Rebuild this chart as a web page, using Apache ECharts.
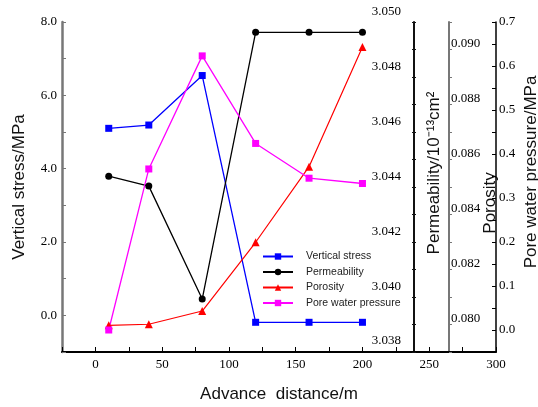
<!DOCTYPE html>
<html>
<head>
<meta charset="utf-8">
<script src="https://cdn.jsdelivr.net/npm/echarts@6/dist/echarts.min.js"></script>
<style>html,body{margin:0;padding:0;background:#fff}#c{width:538px;height:407px}</style>
</head>
<body>
<div id="c"></div>
<script>
// ---- data ----
var distances = [10, 40, 80, 120, 160, 200];
var verticalStress = [5.10, 5.19, 6.54, -0.19, -0.19, -0.19];
var permeability = [3.04401, 3.04365, 3.03953, 3.04926, 3.04926, 3.04926];
var porosity = [0.07977, 0.07981, 0.08029, 0.08279, 0.08554, 0.08989];
var poreWaterPressure = [0.0, 0.366, 0.623, 0.424, 0.345, 0.333];
var seriesNames = ['Vertical stress', 'Permeability', 'Porosity', 'Pore water pressure'];
var xTickLabels = [0, 50, 100, 150, 200, 250, 300];
var stressTickLabels = [0, 2, 4, 6, 8];
var permTickLabels = [3.038, 3.040, 3.042, 3.044, 3.046, 3.048, 3.050];
var porosityTickLabels = [0.080, 0.082, 0.084, 0.086, 0.088, 0.090];
var poreTickLabels = [0, 0.1, 0.2, 0.3, 0.4, 0.5, 0.6, 0.7];

function pairs(ys) { return distances.map(function (x, i) { return [x, ys[i]]; }); }
function pick(list, digits) {
  return function (v) {
    for (var i = 0; i < list.length; i++) {
      if (Math.abs(list[i] - v) < 1e-7) return list[i].toFixed(digits);
    }
    return '';
  };
}
var serif = 'Liberation Serif';
var sans = 'Liberation Sans, Arial, sans-serif';
var labelStyle = { fontFamily: serif, fontSize: 13, color: '#000' };
var nameFont = { fontFamily: sans, fontSize: 17, color: '#111' };
function tickAxis(offset, inside, len, color) {
  return {
    gridIndex: 0, type: 'value', position: 'right', offset: offset, min: 0, max: 12, interval: 1,
    axisLine: { show: false, onZero: false },
    axisTick: { show: true, inside: inside, length: len, lineStyle: { color: color, width: 1 } },
    axisLabel: { show: false }, splitLine: { show: false }
  };
}

var chart = echarts.init(document.getElementById('c'));
chart.setOption({
  backgroundColor: '#fff',
  animation: false,
  grid: [
    { left: 62, right: 42, top: 22, bottom: 55, outerBoundsMode: 'none', containLabel: false },
    { left: 62, right: 42, top: 12, bottom: 55, outerBoundsMode: 'none', containLabel: false }
  ],
  legend: {
    orient: 'vertical', left: 257, top: 246,
    itemWidth: 30, itemHeight: 8, itemGap: 4.5,
    data: seriesNames,
    textStyle: { fontFamily: sans, fontSize: 10.5, color: '#222', padding: [0, 0, 0, 8] }
  },
  xAxis: [
    {
      gridIndex: 0, type: 'value', min: -25, max: 300, interval: 25,
      name: 'Advance  distance/m', nameLocation: 'middle', nameGap: 34,
      nameTextStyle: nameFont,
      axisLine: { onZero: false, lineStyle: { color: '#000', width: 2 } },
      axisTick: { inside: true, length: 5, lineStyle: { color: '#000' } },
      axisLabel: Object.assign({ margin: 6, formatter: pick(xTickLabels, 0) }, labelStyle),
      splitLine: { show: false }
    },
    {
      gridIndex: 1, type: 'value', min: -25, max: 300, show: false
    }
  ],
  yAxis: [
    {
      gridIndex: 0, type: 'value', position: 'left', min: -1, max: 8, interval: 1,
      name: 'Vertical stress/MPa', nameLocation: 'middle', nameGap: 34, nameRotate: 90,
      nameMoveOverlap: false,
      nameTextStyle: nameFont,
      axisLine: { show: true, onZero: false, lineStyle: { color: '#777', width: 2.5 } },
      axisTick: { show: true, inside: true, length: 4, lineStyle: { color: '#777' } },
      axisLabel: Object.assign({ margin: 5, formatter: pick(stressTickLabels, 1) }, labelStyle),
      splitLine: { show: false }
    },
    {
      gridIndex: 0, type: 'value', position: 'right', min: -0.05, max: 0.7, interval: 0.05,
      name: 'Pore water pressure/MPa', nameLocation: 'middle', nameGap: 27, nameRotate: 90,
      nameMoveOverlap: false,
      nameTextStyle: Object.assign({ padding: [0, 0, 0, 30] }, nameFont),
      axisLine: { show: true, onZero: false, lineStyle: { color: '#000', width: 1.5 } },
      axisTick: { show: true, inside: true, length: 4, lineStyle: { color: '#000' } },
      axisLabel: Object.assign({ margin: 3, formatter: pick(poreTickLabels, 1) }, labelStyle),
      splitLine: { show: false }
    },
    {
      gridIndex: 0, type: 'value', position: 'right', offset: -47,
      min: 0.0788, max: 0.0908, interval: 0.0004,
      name: 'Porosity', nameLocation: 'middle', nameGap: 33, nameRotate: 90,
      nameMoveOverlap: false,
      nameTextStyle: Object.assign({ padding: [0, 32, 0, 0] }, nameFont),
      axisLine: { show: true, onZero: false, lineStyle: { color: '#777', width: 2 } },
      axisTick: { show: false },
      axisLabel: Object.assign({ margin: 2, formatter: pick(porosityTickLabels, 3) }, labelStyle),
      splitLine: { show: false }
    },
    {
      gridIndex: 1, type: 'value', position: 'right', offset: -82,
      min: 3.0376, max: 3.050, interval: 0.0004,
      name: 'Permeability/10\u207B\u00B9\u00B3cm\u00B2', nameLocation: 'middle', nameGap: 12, nameRotate: 90,
      nameMoveOverlap: false,
      nameTextStyle: Object.assign({ padding: [0, 0, 0, 18] }, nameFont),
      axisLine: { show: false, onZero: false },
      axisTick: { show: false },
      axisLabel: Object.assign({ inside: true, margin: 13, formatter: pick(permTickLabels, 3) }, labelStyle),
      splitLine: { show: false }
    },
    {
      gridIndex: 0, type: 'value', position: 'right', offset: -82, min: 0, max: 1,
      axisLine: { show: true, onZero: false, lineStyle: { color: '#111', width: 2 } },
      axisTick: { show: false }, axisLabel: { show: false }, splitLine: { show: false }
    },
    tickAxis(-82, true, 2, '#111'),
    tickAxis(-82, false, 2, '#111'),
    tickAxis(-47, false, 3, '#777')
  ],
  series: [
    {
      name: seriesNames[0], type: 'line', xAxisIndex: 0, yAxisIndex: 0,
      data: pairs(verticalStress), symbol: 'rect', symbolSize: 7,
      itemStyle: { color: '#0000ff' }, lineStyle: { color: '#0000ff', width: 1.3 }
    },
    {
      name: seriesNames[1], type: 'line', xAxisIndex: 1, yAxisIndex: 3,
      data: pairs(permeability), symbol: 'circle', symbolSize: 7,
      itemStyle: { color: '#000' }, lineStyle: { color: '#000', width: 1.3 }
    },
    {
      name: seriesNames[2], type: 'line', xAxisIndex: 0, yAxisIndex: 2,
      data: pairs(porosity), symbol: 'triangle', symbolSize: 8,
      itemStyle: { color: '#ff0000' }, lineStyle: { color: '#ff0000', width: 1.2 }
    },
    {
      name: seriesNames[3], type: 'line', xAxisIndex: 0, yAxisIndex: 1,
      data: pairs(poreWaterPressure), symbol: 'rect', symbolSize: 7,
      itemStyle: { color: '#ff00ff' }, lineStyle: { color: '#ff00ff', width: 1.3 }
    }
  ]
});
</script>
</body>
</html>
